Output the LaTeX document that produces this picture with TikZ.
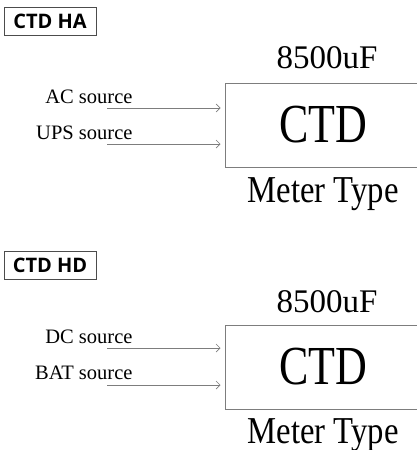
\documentclass[tikz,border=0pt]{standalone}
\usepackage{fontspec}
\setmainfont{Liberation Serif}
\newfontfamily\labelfont{Open Sans}
\usepackage{graphicx}
\usetikzlibrary{positioning,arrows.meta}
\definecolor{linegray}{RGB}{125,125,125}
\newcommand{\narrowtext}[2]{\scalebox{#1}[1]{#2}}

\begin{document}
\begin{tikzpicture}[x=1pt,y=-1pt,
  tag/.style={draw=black!70,line width=0.8pt,minimum width=92pt,minimum height=28pt,inner sep=0pt,font=\labelfont\bfseries\fontsize{20}{20}\selectfont},
  src/.style={anchor=base east,font=\fontsize{20.5}{20.5}\selectfont},
  meter/.style={draw=linegray,line width=1pt,minimum width=196pt,minimum height=84pt,inner sep=0pt,font=\fontsize{55}{55}\selectfont},
  rating/.style={anchor=base,font=\fontsize{33}{33}\selectfont},
  kind/.style={anchor=base,font=\fontsize{38}{38}\selectfont},
  feed/.style={draw=linegray,line width=0.7pt,-{Straight Barb[length=4pt,width=8pt]},shorten >=4pt}]
\useasboundingbox (0,0) rectangle (417,450);
\clip (0,0) rectangle (417,450);
% CTD HA
\node[tag] (tagHA) at (50,21) {CTD HA};
\node[meter] (meterHA) at (323,125) {\narrowtext{0.8}{CTD}};
\node[rating] (ratingHA) at (327,68) {8500uF};
\node[kind] (kindHA) at (323,202) {\narrowtext{0.86}{Meter Type}};
\node[src] (acsrc) at (136,103) {AC source};
\node[src] (upssrc) at (136,139) {UPS source};
\coordinate (acin) at (107,108);
\coordinate (upsin) at (107,144);
\draw[feed] (acin) -- (meterHA.west |- acin);
\draw[feed] (upsin) -- (meterHA.west |- upsin);
% CTD HD
\node[tag] (tagHD) at (50,265) {CTD HD};
\node[meter] (meterHD) at (323,367) {\narrowtext{0.8}{CTD}};
\node[rating] (ratingHD) at (327,312) {8500uF};
\node[kind] (kindHD) at (323,443) {\narrowtext{0.86}{Meter Type}};
\node[src] (dcsrc) at (136,343) {DC source};
\node[src] (batsrc) at (136,379) {BAT source};
\coordinate (dcin) at (107,348);
\coordinate (batin) at (107,385);
\draw[feed] (dcin) -- (meterHD.west |- dcin);
\draw[feed] (batin) -- (meterHD.west |- batin);
\end{tikzpicture}
\end{document}
